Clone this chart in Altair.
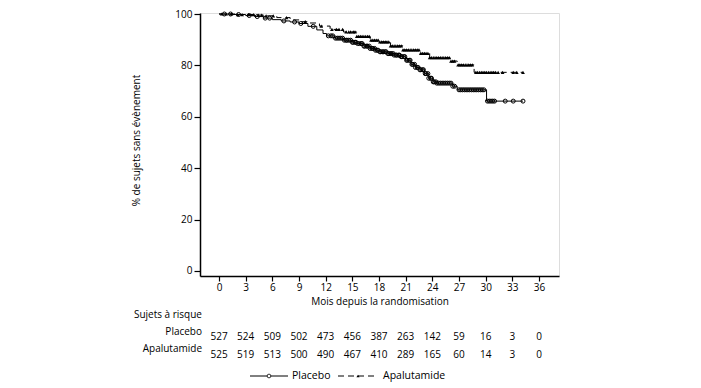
import altair as alt
import pandas as pd
import numpy as np

FONT = "Open Sans"

# ---- data ----
month_ticks = [0, 3, 6, 9, 12, 15, 18, 21, 24, 27, 30, 33, 36]
y_ticks = [0, 20, 40, 60, 80, 100]
risk_placebo = [527, 524, 509, 502, 473, 456, 387, 263, 142, 59, 16, 3, 0]
risk_apalutamide = [525, 519, 513, 500, 490, 467, 410, 289, 165, 60, 14, 3, 0]

pl_time = [0, 1.5, 3.0, 4.0, 5.0, 6.0, 7.0, 8.0, 9.0, 10.0, 11.0, 11.7, 12.1, 13.0,
           14.0, 15.0, 15.5, 16.3, 17.0, 17.6, 18.1, 19.0, 19.7, 20.4, 21.0, 21.6,
           22.1, 22.6, 23.1, 23.6, 24.1, 24.5, 26.3, 26.8, 30.1]
pl_surv = [100, 99.8, 99.4, 99.0, 98.4, 97.8, 97.3, 96.9, 96.3, 95.2, 93.8, 92.4, 91.5,
           90.6, 89.8, 89.0, 88.5, 87.5, 86.6, 85.9, 85.3, 84.6, 84.0, 83.4, 82.0, 80.4,
           79.2, 78.3, 76.8, 75.0, 73.6, 73.1, 71.9, 70.5, 66.1]
pl_censor = [0.6, 1.3, 2.2, 3.4, 4.3, 5.2, 5.7, 7.3, 8.5, 9.2, 10.6, 12.3, 12.6, 12.8,
             13.1, 13.3, 13.5, 13.7, 13.9, 14.1, 14.3, 14.4, 14.6, 14.8, 15.0, 15.1,
             15.3, 15.4, 15.6, 15.8, 16.0, 16.1, 16.3, 16.4, 16.6, 16.7, 16.9, 17.0,
             17.2, 17.3, 17.5, 17.6, 17.8, 17.9, 18.1, 18.2, 18.4, 18.5, 18.7, 18.8,
             19.0, 19.1, 19.3, 19.4, 19.6, 19.7, 19.9, 20.0, 20.2, 20.3, 20.5, 20.6,
             20.8, 20.9, 21.1, 21.2, 21.4, 21.5, 21.7, 21.8, 22.0, 22.1, 22.3, 22.4,
             22.6, 22.7, 22.9, 23.0, 23.2, 23.3, 23.5, 23.6, 23.8, 23.9, 24.1, 24.2,
             24.4, 24.5, 24.7, 24.9, 25.1, 25.3, 25.5, 25.7, 25.9, 26.1, 26.3, 26.5,
             27.0, 27.2, 27.4, 27.6, 27.8, 28.0, 28.2, 28.4, 28.6, 28.8, 29.0, 29.2,
             29.4, 29.6, 29.8, 30.2, 30.4, 30.6, 30.8, 31.0, 32.2, 33.1, 34.2]

ap_time = [0, 2.0, 4.0, 5.0, 6.5, 8.0, 9.1, 10.2, 11.3, 12.5, 14.0, 15.5, 17.0, 18.1,
           19.3, 20.7, 22.6, 23.7, 26.0, 26.8, 28.7]
ap_surv = [100, 99.8, 99.6, 99.3, 98.6, 97.7, 97.0, 96.5, 95.3, 94.0, 93.0, 91.3, 89.8,
           89.2, 87.6, 86.0, 84.7, 83.0, 81.7, 80.2, 77.3]
ap_censor = [0.3, 0.8, 1.4, 2.1, 2.6, 3.3, 3.9, 4.4, 4.8, 5.3, 6.1, 7.6, 9.7, 11.5,
             12.7, 13.2, 13.5, 13.9, 14.3, 14.6, 14.8, 15.1, 15.3, 15.5, 15.7, 15.9,
             16.1, 16.3, 16.5, 16.7, 16.9, 17.1, 17.3, 17.5, 17.7, 17.9, 18.1, 18.3,
             18.5, 18.7, 18.9, 19.1, 19.3, 19.5, 19.7, 19.9, 20.1, 20.3, 20.5, 20.7,
             20.9, 21.1, 21.3, 21.5, 21.7, 21.9, 22.1, 22.3, 22.5, 22.7, 22.9, 23.1,
             23.3, 23.5, 23.7, 23.9, 24.1, 24.3, 24.5, 24.7, 24.9, 25.1, 25.3, 25.5,
             25.7, 25.9, 26.1, 26.3, 26.5, 26.9, 27.1, 27.3, 27.5, 27.7, 27.9, 28.1,
             28.3, 28.5, 28.9, 29.1, 29.3, 29.5, 29.7, 29.9, 30.1, 30.3, 30.5, 30.7,
             30.9, 31.1, 31.4, 31.9, 33.1, 33.5, 34.2]


def step_frame(times, survs, censors):
    t = list(times) + [max(censors)]
    s = list(survs) + [survs[-1]]
    return pd.DataFrame({"t": t, "s": s})


def censor_frame(times, survs, censors):
    idx = np.searchsorted(np.array(times), np.array(censors), side="right") - 1
    return pd.DataFrame({"t": censors, "s": np.array(survs)[idx]})


pl_steps = step_frame(pl_time, pl_surv, pl_censor)
ap_steps = step_frame(ap_time, ap_surv, ap_censor)
pl_marks = censor_frame(pl_time, pl_surv, pl_censor)
ap_marks = censor_frame(ap_time, ap_surv, ap_censor)

TOP = 5
W, H = 359, 263
xscale = alt.Scale(domain=[-2.14, 38.25], nice=False, zero=False)
yscale = alt.Scale(domain=[-1.95, 100.39], nice=False, zero=False)

x_axis = alt.Axis(values=month_ticks, title="Mois depuis la randomisation",
                  grid=False, domainColor="black", domainWidth=1.5,
                  tickColor="black", tickWidth=1.2, tickSize=5,
                  labelFont=FONT, labelFontSize=10, labelColor="black", labelPadding=1,
                  titleFont=FONT, titleFontSize=10, titleFontWeight="normal",
                  titleColor="black", titleY=25, titleBaseline="middle")
y_axis = alt.Axis(values=y_ticks, title="% de sujets sans évènement",
                  grid=False, domainColor="black", domainWidth=1.5,
                  tickColor="black", tickWidth=1.2, tickSize=6,
                  labelFont=FONT, labelFontSize=10, labelColor="black", labelPadding=2,
                  titleFont=FONT, titleFontSize=10, titleFontWeight="normal",
                  titleColor="black", titleX=-64, titleY=140 - 8 - TOP, titleAngle=-90,
                  titleAlign="center", titleBaseline="middle")

X = alt.X("t:Q", scale=xscale, axis=x_axis)
Y = alt.Y("s:Q", scale=yscale, axis=y_axis)

pl_line = alt.Chart(pl_steps).mark_line(interpolate="step-after", color="black",
                                        strokeWidth=1).encode(x=X, y=Y)
ap_line = alt.Chart(ap_steps).mark_line(interpolate="step-after", color="black",
                                        strokeWidth=1, strokeDash=[6, 4]).encode(x=X, y=Y)
pl_pts = alt.Chart(pl_marks).mark_point(shape="circle", size=16, filled=False,
                                        color="black", strokeWidth=1,
                                        opacity=1).encode(x=X, y=Y)
ap_pts = alt.Chart(ap_marks).mark_point(shape="triangle-up", size=14, filled=True,
                                        color="black", opacity=1).encode(x=X, y=Y)

# ---- risk table ----
risk_df = pd.DataFrame({
    "t": month_ticks * 2,
    "n": risk_placebo + risk_apalutamide,
    "row": ["Placebo"] * len(month_ticks) + ["Apalutamide"] * len(month_ticks),
})
OFF = 8 + TOP
risk_pl = alt.Chart(risk_df).transform_filter(alt.datum.row == "Placebo").mark_text(
    font=FONT, fontSize=10, color="black", baseline="middle", align="center").encode(
    x=X, y=alt.value(337 - OFF), text="n:Q")
risk_ap = alt.Chart(risk_df).transform_filter(alt.datum.row == "Apalutamide").mark_text(
    font=FONT, fontSize=10, color="black", baseline="middle", align="center").encode(
    x=X, y=alt.value(355 - OFF), text="n:Q")

labels_df = pd.DataFrame({"label": ["Sujets à risque", "Placebo", "Apalutamide"],
                          "yy": [315 - OFF, 332 - OFF, 349 - OFF]})
row_labels = alt.Chart(labels_df).mark_text(
    font=FONT, fontSize=10, color="black", align="right", baseline="middle").encode(
    x=alt.value(2), y=alt.Y("yy:Q", scale=None), text="label:N")

# ---- legend ----
leg_y = 376 - OFF
one = pd.DataFrame({"a": [0]})
leg_pl_line = alt.Chart(one).mark_rule(color="black", strokeWidth=1).encode(
    x=alt.value(50), x2=alt.value(88), y=alt.value(leg_y))
leg_pl_pt = alt.Chart(one).mark_point(
    shape="circle", size=14, filled=True, fill="white", stroke="black", strokeWidth=0.8,
    opacity=1).encode(x=alt.value(69), y=alt.value(leg_y))
leg_ap_line = alt.Chart(one).mark_rule(
    color="black", strokeWidth=1, strokeDash=[6, 4]).encode(
    x=alt.value(138), x2=alt.value(178), y=alt.value(leg_y))
leg_ap_pt = alt.Chart(one).mark_point(
    shape="triangle-up", size=10, filled=True, color="black", opacity=1).encode(
    x=alt.value(158), y=alt.value(leg_y))
leg_text = alt.Chart(pd.DataFrame({"label": ["Placebo", "Apalutamide"],
                                   "xx": [92, 183]})).mark_text(
    font=FONT, fontSize=10.5, color="black", align="left", baseline="middle").encode(
    x=alt.X("xx:Q", scale=None), y=alt.value(leg_y), text="label:N")

chart = alt.layer(
    pl_line, ap_line, pl_pts, ap_pts, risk_pl, risk_ap, row_labels,
    leg_pl_line, leg_pl_pt, leg_ap_line, leg_ap_pt, leg_text,
).properties(
    width=W, height=H,
    autosize=alt.AutoSizeParams(type="none"),
    padding={"left": 192, "top": TOP, "right": 130, "bottom": 110},
).configure_view(
    stroke="#333333", strokeWidth=1,
).configure(font=FONT, background="white")

chart.save("out.html", embed_options={"renderer": "svg", "actions": False})
